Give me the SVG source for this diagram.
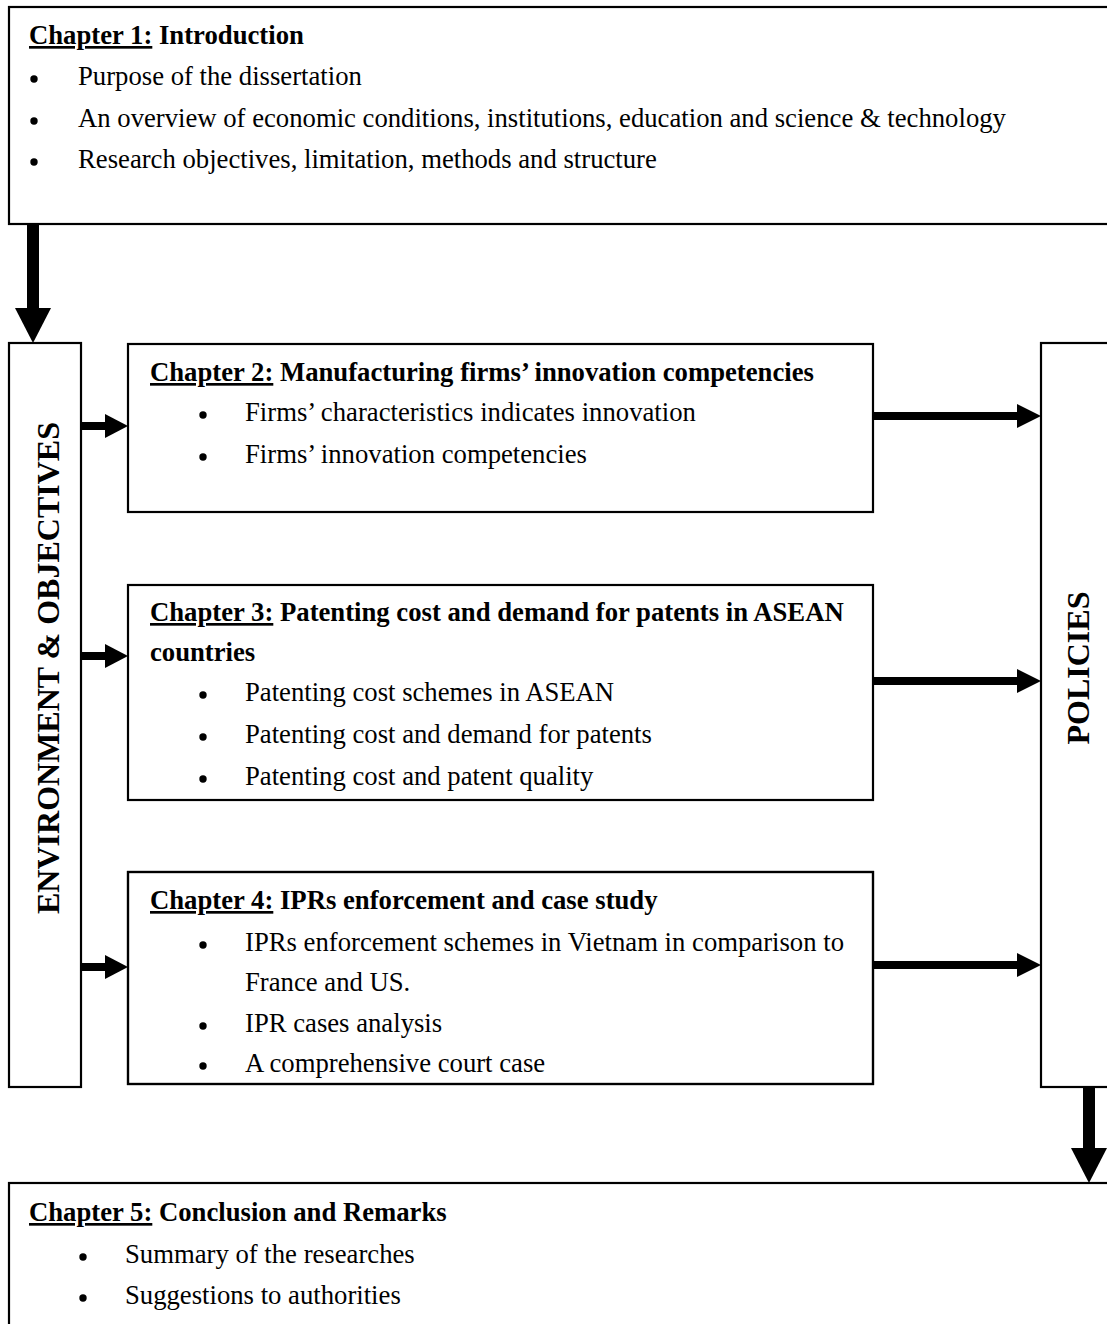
<svg xmlns="http://www.w3.org/2000/svg" width="1107" height="1324" viewBox="0 0 1107 1324">
  <style>
    .box { fill: #ffffff; stroke: #000000; stroke-width: 2.2; }
    .t { font-family: "Liberation Serif", "Times New Roman", serif; font-size: 26.7px; fill: #000000; }
    .h { font-weight: bold; }
    .u { text-decoration: underline; }
    .v { font-family: "Liberation Serif", "Times New Roman", serif; font-size: 32px; font-weight: bold; fill: #000000; }
    .dot { fill: #000000; }
    .shaft { fill: #000000; }
  </style>
  <rect width="1107" height="1324" fill="#ffffff"/>

  <!-- Chapter 1 -->
  <g id="chapter1">
    <rect class="box" x="9" y="7" width="1120" height="217"/>
    <text class="t h" x="29" y="44"><tspan class="u">Chapter 1:</tspan> Introduction</text>
    <circle class="dot" cx="34" cy="79" r="3.7"/>
    <text class="t" x="78" y="85">Purpose of the dissertation</text>
    <circle class="dot" cx="34" cy="121" r="3.7"/>
    <text class="t" x="78" y="127">An overview of economic conditions, institutions, education and science &amp; technology</text>
    <circle class="dot" cx="34" cy="162" r="3.7"/>
    <text class="t" x="78" y="168">Research objectives, limitation, methods and structure</text>
  </g>

  <!-- Environment & objectives column -->
  <g id="environment">
    <rect class="box" x="9" y="343" width="72" height="744"/>
    <text class="v" transform="translate(59,668) rotate(-90)" text-anchor="middle">ENVIRONMENT &amp; OBJECTIVES</text>
  </g>

  <!-- Policies column -->
  <g id="policies">
    <rect class="box" x="1041" y="343" width="100" height="744"/>
    <text class="v" transform="translate(1089,668) rotate(-90)" text-anchor="middle">POLICIES</text>
  </g>

  <!-- Chapter 2 -->
  <g id="chapter2">
    <rect class="box" x="128" y="344" width="745" height="168"/>
    <text class="t h" x="150" y="381"><tspan class="u">Chapter 2:</tspan> Manufacturing firms’ innovation competencies</text>
    <circle class="dot" cx="203" cy="415" r="3.7"/>
    <text class="t" x="245" y="421">Firms’ characteristics indicates innovation</text>
    <circle class="dot" cx="203" cy="457" r="3.7"/>
    <text class="t" x="245" y="463">Firms’ innovation competencies</text>
  </g>

  <!-- Chapter 3 -->
  <g id="chapter3">
    <rect class="box" x="128" y="585" width="745" height="215"/>
    <text class="t h" x="150" y="621"><tspan class="u">Chapter 3:</tspan> Patenting cost and demand for patents in ASEAN</text>
    <text class="t h" x="150" y="661">countries</text>
    <circle class="dot" cx="203" cy="695" r="3.7"/>
    <text class="t" x="245" y="701">Patenting cost schemes in ASEAN</text>
    <circle class="dot" cx="203" cy="737" r="3.7"/>
    <text class="t" x="245" y="743">Patenting cost and demand for patents</text>
    <circle class="dot" cx="203" cy="779" r="3.7"/>
    <text class="t" x="245" y="785">Patenting cost and patent quality</text>
  </g>

  <!-- Chapter 4 -->
  <g id="chapter4">
    <clipPath id="ch4clip"><rect x="128" y="872" width="745" height="212"/></clipPath>
    <rect class="box" x="128" y="872" width="745" height="212"/>
    <g clip-path="url(#ch4clip)">
      <text class="t h" x="150" y="909"><tspan class="u">Chapter 4:</tspan> IPRs enforcement and case study</text>
      <circle class="dot" cx="203" cy="945" r="3.7"/>
      <text class="t" x="245" y="951">IPRs enforcement schemes in Vietnam in comparison to</text>
      <text class="t" x="245" y="991">France and US.</text>
      <circle class="dot" cx="203" cy="1026" r="3.7"/>
      <text class="t" x="245" y="1032">IPR cases analysis</text>
      <circle class="dot" cx="203" cy="1066" r="3.7"/>
      <text class="t" x="245" y="1072">A comprehensive court case</text>
    </g>
    <rect x="128" y="872" width="745" height="212" fill="none" stroke="#000" stroke-width="2.2"/>
  </g>

  <!-- Chapter 5 -->
  <g id="chapter5">
    <rect class="box" x="9" y="1183" width="1120" height="160"/>
    <text class="t h" x="29" y="1221"><tspan class="u">Chapter 5:</tspan> Conclusion and Remarks</text>
    <circle class="dot" cx="83" cy="1257" r="3.7"/>
    <text class="t" x="125" y="1263">Summary of the researches</text>
    <circle class="dot" cx="83" cy="1298" r="3.7"/>
    <text class="t" x="125" y="1304">Suggestions to authorities</text>
  </g>

  <!-- Connectors -->
  <g id="connectors">
    <!-- Chapter 1 down to the environment column -->
    <rect class="shaft" x="27" y="224" width="12" height="85"/>
    <polygon class="shaft" points="15,308 51,308 33,343"/>
    <!-- environment column into chapters 2-4 -->
    <rect class="shaft" x="81" y="422" width="25" height="8"/>
    <polygon class="shaft" points="105,414 105,438 128,426"/>
    <rect class="shaft" x="81" y="652" width="25" height="8"/>
    <polygon class="shaft" points="105,644 105,668 128,656"/>
    <rect class="shaft" x="81" y="963" width="25" height="8"/>
    <polygon class="shaft" points="105,955 105,979 128,967"/>
    <!-- chapters 2-4 into policies -->
    <rect class="shaft" x="873" y="412" width="145" height="8"/>
    <polygon class="shaft" points="1017,404 1017,428 1041,416"/>
    <rect class="shaft" x="873" y="677" width="145" height="8"/>
    <polygon class="shaft" points="1017,669 1017,693 1041,681"/>
    <rect class="shaft" x="873" y="961" width="145" height="8"/>
    <polygon class="shaft" points="1017,953 1017,977 1041,965"/>
    <!-- policies down to chapter 5 -->
    <rect class="shaft" x="1083" y="1087" width="12" height="62"/>
    <polygon class="shaft" points="1071,1148 1107,1148 1089,1183"/>
  </g>
</svg>
